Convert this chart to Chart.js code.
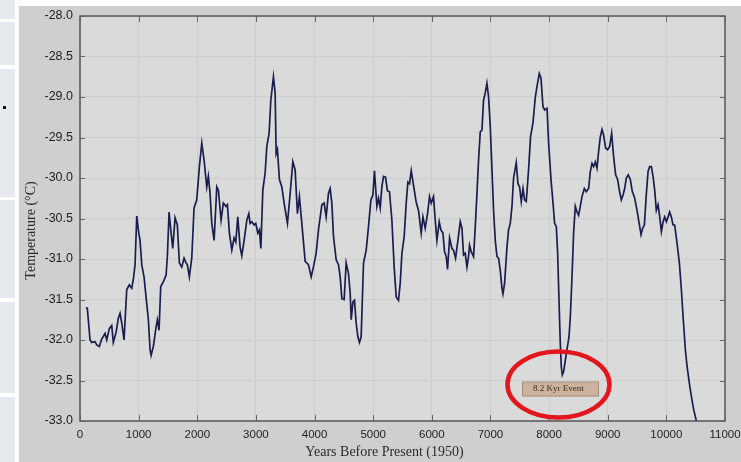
<!DOCTYPE html>
<html>
<head>
<meta charset="utf-8">
<script src="https://cdn.jsdelivr.net/npm/chart.js@4.4.0/dist/chart.umd.min.js"></script>
<style>
  html, body { margin: 0; padding: 0; background: #fff; }
  body { width: 741px; height: 462px; position: relative; overflow: hidden; }
  .side { position: absolute; left: 0; width: 15px; background: #e8e9ee; }
  .dot { position: absolute; left: 3px; top: 106px; width: 3px; height: 3px; background: #111; }
  #wrap { position: absolute; left: 19px; top: 6px; width: 722px; height: 456px; }
</style>
</head>
<body>
<div class="side" style="top:0;height:19px"></div>
<div class="side" style="top:22px;height:43px"></div>
<div class="side" style="top:69px;height:128px"></div>
<div class="side" style="top:200px;height:98px"></div>
<div class="side" style="top:302px;height:91px"></div>
<div class="side" style="top:397px;height:65px"></div>
<div class="dot"></div>
<div id="wrap"><canvas id="chart" width="722" height="456"></canvas></div>
<script>
// years before present (1950) and temperature
const years = [
  102, 125, 171, 200, 256, 285, 329, 370, 427, 456,
  500, 541, 568, 614, 654, 683, 712, 751, 797, 841,
  882, 910, 939, 968, 1002, 1024, 1053, 1092, 1138, 1166,
  1195, 1212, 1251, 1297, 1319, 1348, 1377, 1422, 1468, 1490,
  1519, 1548, 1582, 1621, 1660, 1695, 1735, 1775, 1809, 1831,
  1865, 1906, 1945, 1991, 2036, 2077, 2116, 2162, 2189, 2218,
  2247, 2287, 2333, 2360, 2406, 2445, 2491, 2514, 2548, 2589,
  2628, 2657, 2691, 2730, 2759, 2799, 2845, 2879, 2901, 2930,
  2969, 2998, 3032, 3060, 3084, 3118, 3157, 3186, 3225, 3254,
  3299, 3328, 3345, 3367, 3401, 3442, 3481, 3538, 3584, 3630,
  3669, 3708, 3742, 3783, 3840, 3896, 3942, 3981, 4027, 4067,
  4125, 4164, 4198, 4237, 4266, 4295, 4323, 4369, 4408, 4437,
  4466, 4505, 4539, 4579, 4608, 4625, 4654, 4681, 4710, 4739,
  4766, 4795, 4835, 4881, 4920, 4961, 4995, 5022, 5063, 5091,
  5120, 5148, 5176, 5210, 5244, 5278, 5319, 5358, 5393, 5432,
  5461, 5490, 5529, 5563, 5592, 5620, 5649, 5688, 5734, 5773,
  5819, 5848, 5887, 5927, 5961, 5990, 6029, 6058, 6087, 6126,
  6155, 6190, 6217, 6246, 6268, 6303, 6343, 6370, 6405, 6445,
  6485, 6514, 6541, 6570, 6599, 6626, 6643, 6672, 6712, 6741,
  6770, 6797, 6826, 6855, 6882, 6911, 6940, 6968, 6997, 7026,
  7053, 7082, 7111, 7138, 7167, 7196, 7213, 7241, 7282, 7309,
  7338, 7367, 7394, 7440, 7469, 7497, 7526, 7555, 7582, 7611,
  7650, 7684, 7725, 7765, 7794, 7833, 7862, 7896, 7924, 7965,
  7992, 8033, 8067, 8094, 8123, 8146, 8169, 8191, 8208, 8225,
  8248, 8277, 8305, 8340, 8362, 8391, 8418, 8447, 8476, 8503,
  8532, 8561, 8601, 8635, 8674, 8703, 8732, 8759, 8788, 8817,
  8845, 8874, 8903, 8930, 8964, 8998, 9033, 9067, 9101, 9135,
  9169, 9203, 9232, 9261, 9289, 9317, 9351, 9386, 9420, 9454,
  9500, 9527, 9568, 9596, 9625, 9659, 9688, 9715, 9744, 9773,
  9801, 9829, 9858, 9880, 9915, 9944, 9971, 10000, 10029, 10056,
  10085, 10114, 10142, 10183, 10222, 10256, 10285, 10324, 10354, 10393,
  10427, 10466, 10512
];
const temps = [
  -31.60, -31.61, -32.00, -32.03, -32.02, -32.06, -32.08, -31.99, -31.92, -32.00,
  -31.86, -31.82, -32.03, -31.91, -31.73, -31.67, -31.79, -32.00, -31.38, -31.32,
  -31.36, -31.25, -31.07, -30.47, -30.68, -30.77, -31.07, -31.22, -31.55, -31.75,
  -32.12, -32.19, -32.08, -31.84, -31.75, -31.88, -31.34, -31.28, -31.20, -30.97,
  -30.42, -30.64, -30.87, -30.49, -30.58, -31.05, -31.10, -30.99, -31.05, -31.07,
  -31.22, -30.99, -30.37, -30.27, -29.86, -29.57, -29.78, -30.11, -29.98, -30.19,
  -30.56, -30.77, -30.11, -30.15, -30.52, -30.31, -30.35, -30.33, -30.68, -30.89,
  -30.74, -30.79, -30.48, -30.85, -30.96, -30.77, -30.52, -30.44, -30.56, -30.54,
  -30.58, -30.56, -30.68, -30.64, -30.87, -30.15, -29.94, -29.61, -29.45, -29.04,
  -28.75, -28.95, -29.70, -29.65, -30.02, -30.11, -30.31, -30.56, -30.19, -29.80,
  -29.90, -30.44, -30.23, -30.56, -31.03, -31.07, -31.22, -31.10, -30.93, -30.64,
  -30.33, -30.31, -30.48, -30.19, -30.13, -30.31, -30.72, -31.01, -31.07, -31.22,
  -31.49, -31.50, -31.05, -31.18, -31.42, -31.75, -31.53, -31.51, -31.79, -31.96,
  -32.03, -31.96, -31.05, -30.89, -30.60, -30.27, -30.21, -29.91, -30.35, -30.25,
  -30.37, -30.11, -29.98, -29.99, -30.16, -30.17, -30.52, -31.10, -31.47, -31.51,
  -31.30, -30.93, -30.72, -30.31, -30.05, -30.07, -29.91, -30.09, -30.30, -30.40,
  -30.68, -30.48, -30.62, -30.44, -30.23, -30.31, -30.23, -30.52, -30.77, -30.54,
  -30.64, -30.68, -30.91, -30.97, -31.13, -30.74, -30.87, -30.89, -30.99, -30.77,
  -30.54, -30.62, -30.95, -30.93, -31.10, -30.97, -30.83, -30.91, -30.97, -30.60,
  -30.19, -29.78, -29.43, -29.41, -29.04, -28.95, -28.83, -29.00, -29.37, -29.90,
  -30.40, -30.77, -30.97, -30.99, -31.14, -31.36, -31.43, -31.30, -30.85, -30.64,
  -30.56, -30.35, -30.00, -29.81, -30.07, -30.11, -30.29, -30.13, -30.27, -30.29,
  -29.90, -29.49, -29.32, -29.00, -28.87, -28.71, -28.77, -29.12, -29.16, -29.14,
  -29.57, -30.02, -30.31, -30.56, -30.60, -30.93, -31.51, -32.04, -32.33, -32.43,
  -32.39, -32.25, -32.12, -31.96, -31.71, -31.22, -30.68, -30.35, -30.42, -30.46,
  -30.35, -30.23, -30.13, -30.17, -30.13, -29.92, -29.82, -29.86, -29.80, -29.88,
  -29.67, -29.49, -29.40, -29.47, -29.63, -29.65, -29.61, -29.45, -29.74, -29.96,
  -30.02, -30.17, -30.27, -30.21, -30.13, -30.00, -29.96, -30.02, -30.17, -30.23,
  -30.40, -30.52, -30.70, -30.62, -30.58, -30.19, -29.92, -29.86, -29.86, -29.98,
  -30.15, -30.40, -30.33, -30.44, -30.66, -30.54, -30.48, -30.54, -30.48, -30.42,
  -30.48, -30.58, -30.58, -30.81, -31.05, -31.38, -31.71, -32.12, -32.33, -32.54,
  -32.70, -32.86, -33.00
];

const xTitle = 'Years Before Present (1950)';
const yTitle = 'Temperature (\u00B0C)';
const eventLabel = '8.2 Kyr Event';
const eventYear = 8160;
const eventTemp = -32.55;

const points = years.map((y, i) => ({ x: y, y: temps[i] }));

const framePlugin = {
  id: 'framePlugin',
  beforeDraw(chart) {
    const ctx = chart.ctx, a = chart.chartArea;
    ctx.save();
    ctx.fillStyle = '#cfcfcf';
    ctx.fillRect(0, 0, chart.width, chart.height);
    ctx.fillStyle = '#dadada';
    ctx.fillRect(a.left, a.top, a.right - a.left, a.bottom - a.top);
    ctx.restore();
  },
  afterDraw(chart) {
    const ctx = chart.ctx, a = chart.chartArea;
    const xs = chart.scales.x, ys = chart.scales.y;
    ctx.save();
    // frame
    ctx.strokeStyle = '#555';
    ctx.lineWidth = 1.5;
    ctx.strokeRect(a.left, a.top, a.right - a.left, a.bottom - a.top);
    // inward ticks
    ctx.lineWidth = 1;
    ctx.strokeStyle = '#666';
    ctx.beginPath();
    xs.ticks.forEach(t => {
      const px = Math.round(xs.getPixelForValue(t.value)) + 0.5;
      ctx.moveTo(px, a.bottom); ctx.lineTo(px, a.bottom - 6);
      ctx.moveTo(px, a.top); ctx.lineTo(px, a.top + 6);
    });
    ys.ticks.forEach(t => {
      const py = Math.round(ys.getPixelForValue(t.value)) + 0.5;
      ctx.moveTo(a.left, py); ctx.lineTo(a.left + 5, py);
      ctx.moveTo(a.right, py); ctx.lineTo(a.right - 5, py);
    });
    ctx.stroke();

    // axis titles
    ctx.fillStyle = '#2a2a2a';
    ctx.font = '14px "Liberation Serif"';
    ctx.textAlign = 'center';
    ctx.textBaseline = 'middle';
    ctx.fillText(xTitle, (a.left + a.right) / 2 - 18, chart.height - 10);
    ctx.save();
    ctx.translate(12, (a.top + a.bottom) / 2 + 12);
    ctx.rotate(-Math.PI / 2);
    ctx.fillText(yTitle, 0, 0);
    ctx.restore();

    // event annotation
    const cx = xs.getPixelForValue(eventYear);
    const cy = ys.getPixelForValue(eventTemp);
    ctx.fillStyle = '#cdb39e';
    ctx.fillRect(cx - 36, cy - 2.5, 76, 14);
    ctx.strokeStyle = '#a28d7c';
    ctx.lineWidth = 1;
    ctx.strokeRect(cx - 36, cy - 2.5, 76, 14);
    ctx.fillStyle = '#3a2c22';
    ctx.font = '9px "Liberation Serif"';
    ctx.fillText(eventLabel, cx, cy + 4.5);
    ctx.beginPath();
    ctx.ellipse(cx, cy, 51, 33, 0, 0, Math.PI * 2);
    ctx.strokeStyle = '#e3161e';
    ctx.lineWidth = 4.5;
    ctx.stroke();
    ctx.restore();
  }
};

new Chart(document.getElementById('chart'), {
  type: 'line',
  data: {
    datasets: [{
      data: points,
      borderColor: '#1b1e4c',
      borderWidth: 1.7,
      pointRadius: 0,
      tension: 0,
      fill: false
    }]
  },
  options: {
    responsive: false,
    animation: false,
    layout: { autoPadding: false, padding: { top: 10, right: 16, left: 0, bottom: 0 } },
    plugins: { legend: { display: false }, tooltip: { enabled: false } },
    scales: {
      x: {
        type: 'linear', min: 0, max: 11000,
        afterFit: s => { s.height = 41; },
        ticks: { stepSize: 1000, autoSkip: false, maxRotation: 0, padding: 0,
                 color: '#222', font: { family: '"Liberation Sans"', size: 11.5 },
                 callback: v => String(v) },
        grid: { color: '#cdcdcd', drawTicks: true, tickLength: 7, tickColor: 'rgba(0,0,0,0)' },
        border: { display: false }
      },
      y: {
        min: -33, max: -28,
        afterFit: s => { s.width = 61; },
        ticks: { stepSize: 0.5, padding: 0, color: '#222',
                 font: { family: '"Liberation Sans"', size: 12.5 },
                 callback: v => v.toFixed(1) },
        grid: { color: '#cdcdcd', drawTicks: true, tickLength: 7, tickColor: 'rgba(0,0,0,0)' },
        border: { display: false }
      }
    }
  },
  plugins: [framePlugin]
});
</script>
</body>
</html>
